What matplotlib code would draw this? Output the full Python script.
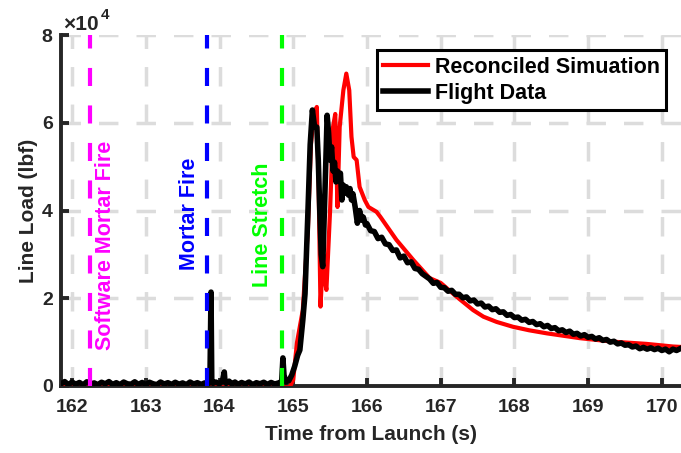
import matplotlib
matplotlib.use('Agg')
import matplotlib.pyplot as plt

# fonts - MATLAB-ish bold helvetica look
plt.rcParams['font.family'] = ['Liberation Sans', 'DejaVu Sans']
plt.rcParams['font.weight'] = 'bold'
plt.rcParams['lines.scale_dashes'] = False

# flight data (lbf)
flight_time = [161.85, 161.9, 161.95, 162.0, 162.05, 162.1, 162.15, 162.2, 162.25, 162.3,
               162.35, 162.4, 162.45, 162.5, 162.55, 162.6, 162.65, 162.7, 162.75, 162.8,
               162.85, 162.9, 162.95, 163.0, 163.05, 163.1, 163.15, 163.2, 163.25, 163.3,
               163.35, 163.4, 163.45, 163.5, 163.55, 163.6, 163.65, 163.7, 163.75, 163.8,
               163.85, 163.87, 163.885, 163.895, 163.91, 163.95, 164.0, 164.04, 164.065, 164.075,
               164.09, 164.13, 164.17, 164.21, 164.25, 164.3, 164.35, 164.4, 164.45, 164.5,
               164.55, 164.6, 164.65, 164.7, 164.75, 164.8, 164.83, 164.845, 164.86, 164.875,
               164.9, 164.94, 164.98, 165.02, 165.06, 165.09, 165.13, 165.16, 165.2, 165.23,
               165.26, 165.29, 165.32, 165.34, 165.36, 165.38, 165.4, 165.43, 165.46, 165.48,
               165.5, 165.52, 165.54, 165.56, 165.58, 165.6, 165.62, 165.64, 165.66, 165.68,
               165.7, 165.72, 165.75, 165.77, 165.79, 165.81, 165.84, 165.87, 165.9, 165.93,
               165.95, 165.98, 166.0, 166.05, 166.1, 166.15, 166.2, 166.25,
               166.3, 166.35, 166.4, 166.45, 166.5, 166.55, 166.6, 166.65, 166.7, 166.75,
               166.8, 166.85, 166.9, 166.95, 167.0, 167.05, 167.1, 167.15, 167.2, 167.25,
               167.3, 167.35, 167.4, 167.45, 167.5, 167.55, 167.6, 167.65, 167.7, 167.75,
               167.8, 167.85, 167.9, 167.95, 168.0, 168.05, 168.1, 168.15, 168.2, 168.25,
               168.3, 168.35, 168.4, 168.45, 168.5, 168.55, 168.6, 168.65, 168.7, 168.75,
               168.8, 168.85, 168.9, 168.95, 169.0, 169.05, 169.1, 169.15, 169.2, 169.25,
               169.3, 169.35, 169.4, 169.45, 169.5, 169.55, 169.6, 169.65, 169.7, 169.75,
               169.8, 169.85, 169.9, 169.95, 170.0, 170.05, 170.1, 170.15, 170.2, 170.26]
flight_load = [500, 1000, 300, 900, 400, 800, 250, 950, 450, 700,
               300, 850, 500, 1000, 350, 750, 300, 900, 500, 400,
               950, 350, 800, 300, 850, 500, 300, 900, 450, 750,
               350, 850, 400, 700, 300, 900, 450, 750, 350, 700,
               500, 900, 21400, 1500, 600, 900, 500, 1200, 3200, 900,
               600, 1100, 400, 900, 350, 800, 450, 900, 300, 750,
               500, 850, 350, 800, 450, 700, 500, 1500, 6400, 2500,
               900, 1200, 2500, 4500, 7000, 8200, 15000, 21000, 40000, 55000,
               62900, 59000, 59000, 51500, 40000, 30000, 27200, 44000, 61700, 57600,
               51500, 54500, 49000, 51000, 46500, 49000, 47000, 48500, 42400, 45800,
               44000, 45400, 43500, 45000, 42400, 43800, 40800, 37100, 40000, 37800,
               38500, 36700, 37000, 35400, 35200, 33600, 33900, 32400,
               32200, 30900, 31000, 29200, 29600, 28100, 28300, 26800, 26600, 25600,
               25000, 24400, 23400, 23600, 22500, 22400, 21600, 21800, 20900, 20900,
               20100, 20300, 19400, 19600, 18700, 18900, 18000, 18200, 17400, 17600,
               16800, 16900, 16100, 16300, 15600, 15700, 15000, 15200, 14500, 14700,
               14000, 14200, 13500, 13800, 13100, 13300, 12600, 12800, 12200, 12500,
               11800, 12000, 11400, 11700, 11100, 11300, 10700, 11000, 10400, 10600,
               10000, 10200, 9600, 9800, 9300, 9400, 8900, 9100, 8500, 8800,
               8400, 8700, 8300, 8600, 8100, 8400, 7800, 8400, 8100, 8600]

# reconciled simulation
sim_time = [161.85, 163.0, 164.0, 164.95, 165.0, 165.05, 165.13, 165.2, 165.24, 165.28,
            165.32, 165.345, 165.37, 165.39, 165.41, 165.43, 165.45, 165.5, 165.54, 165.57,
            165.6, 165.63, 165.68, 165.72, 165.76, 165.79, 165.82, 165.86, 165.9, 165.97,
            166.02, 166.09, 166.13, 166.18, 166.4, 166.63, 166.85, 167.0, 167.22, 167.44,
            167.58, 167.76, 167.98, 168.2, 168.44, 168.89, 169.34, 169.79, 170.15, 170.26]
sim_load = [-300, -300, -300, -300, 1400, 9800, 17300, 36000, 55000, 62000,
            63600, 45000, 18100, 25000, 30000, 24000, 21900, 40000, 59000, 62000,
            40800, 59000, 67400, 71200, 67400, 56800, 52200, 51500, 45400, 42400,
            40800, 40100, 39700, 38600, 33300, 28700, 24600, 23500, 20300, 17300,
            15800, 14600, 13500, 12700, 12000, 10900, 10100, 9600, 9000, 8900]

# event markers
event_times = [162.24, 163.83, 164.85]
event_names = ['Software Mortar Fire', 'Mortar Fire', 'Line Stretch']
event_colors = ['#FF00FF', '#0000FF', '#00FF00']
event_text_x = [162.45, 163.59, 164.59]
event_text_y = [8200, 26400, 22600]

xticks = [162, 163, 164, 165, 166, 167, 168, 169, 170]
yticks = [0, 20000, 40000, 60000, 80000]
ytick_labels = ['0', '2', '4', '6', '8']

axcol = '#262626'

fig = plt.figure(figsize=(6.81, 4.53), dpi=100)
ax = fig.add_axes([61 / 681, 1 - 386 / 453, 1 - 61 / 681, (386 - 35) / 453])

ax.plot(sim_time, sim_load, color='#FF0000', lw=3, label='Reconciled Simuation', zorder=3)
ax.plot(flight_time, flight_load, color='black', lw=4, label='Flight Data', zorder=4)

for t, c in zip(event_times, event_colors):
    ax.plot([t, t], [0, 80000], color=c, lw=3, linestyle=(0, (13, 14)), zorder=5)
for name, c, tx, ty in zip(event_names, event_colors, event_text_x, event_text_y):
    ax.text(tx, ty, name, color=c, rotation=90, ha='center', va='bottom',
            fontsize=15.5, fontweight='bold', zorder=6)

ax.set_xlim(161.85, 170.26)
ax.set_ylim(0, 80000)
ax.set_xticks(xticks)
ax.set_yticks(yticks)
ax.set_yticklabels(ytick_labels)

ax.grid(True, color='#DCDCDC', lw=2.5, linestyle=(0, (14, 13)))
ax.set_axisbelow(True)

for s in ['top', 'right']:
    ax.spines[s].set_visible(False)
for s in ['left', 'bottom']:
    ax.spines[s].set_linewidth(2.8)
    ax.spines[s].set_color(axcol)
    ax.spines[s].set_zorder(2)
ax.tick_params(direction='in', length=6, width=2.8, colors=axcol, labelsize=14)
ax.tick_params(axis='x', pad=9)
ax.tick_params(axis='y', pad=6)
for lab in ax.get_xticklabels() + ax.get_yticklabels():
    lab.set_fontweight('bold')

ax.set_xlabel('Time from Launch (s)', fontsize=15, fontweight='bold', color=axcol, labelpad=7)
ax.set_ylabel('Line Load (lbf)', fontsize=15, fontweight='bold', color=axcol, labelpad=3)

# x10^4 multiplier over the y axis
fig.text(63 / 681, 1 - 30 / 453, '×10', fontsize=15, color=axcol, va='baseline', ha='left')
fig.text(101 / 681, 1 - 19 / 453, '4', fontsize=11, color=axcol, va='baseline', ha='left')

leg = ax.legend(loc='upper right', bbox_to_anchor=(0.976, 0.957), borderaxespad=0,
                fancybox=False, edgecolor='black', framealpha=1,
                prop={'size': 15.5, 'weight': 'bold'}, handlelength=2.1,
                handletextpad=0.3, labelspacing=0.25, borderpad=0.3)
leg.get_frame().set_linewidth(2.2)

fig.savefig('out.png', dpi=100)
